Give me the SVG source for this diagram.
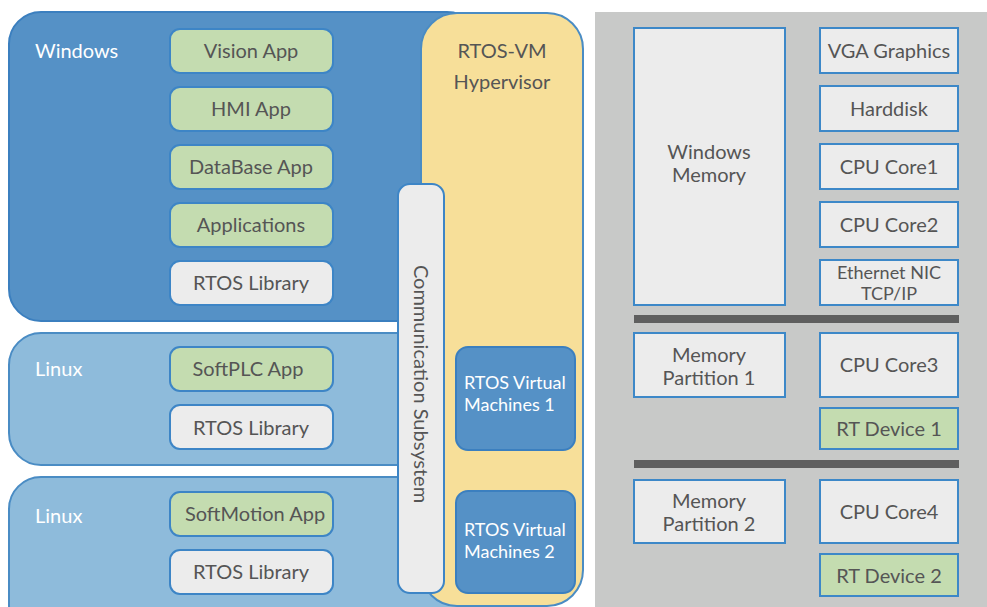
<svg xmlns="http://www.w3.org/2000/svg" width="987" height="607" viewBox="0 0 987 607">
<style>
text{font-family:Lato,"Open Sans","Liberation Sans",sans-serif;font-size:20px;fill:#555555}
.w{fill:#ffffff}
.c{text-anchor:middle}
.s{font-size:18px}
.win{fill:#5591c6;stroke:#3b7fbf;stroke-width:2}
.lin{fill:#8ebbdb;stroke:#4a8cc4;stroke-width:2}
.hyp{fill:#f7df99;stroke:#4a8cc4;stroke-width:2}
.app{fill:#c4dcb0;stroke:#3d85c6;stroke-width:2}
.lib{fill:#ececec;stroke:#3d85c6;stroke-width:2}
.vm{fill:#5591c6;stroke:#3b7fbf;stroke-width:2}
.hw{fill:#ececec;stroke:#3d88c8;stroke-width:2}
.hwg{fill:#c4dcb0;stroke:#3d88c8;stroke-width:2}
.bar{fill:#5f5f5f}
</style>
<rect width="987" height="607" fill="#ffffff"/>
<g id="windows">
<rect class="win" x="9" y="12" width="470" height="309" rx="32"/>
<text class="w" x="35" y="58">Windows</text>
</g>
<g id="linux1">
<rect class="lin" x="9" y="333" width="470" height="132" rx="32"/>
<text class="w" x="35" y="376">Linux</text>
</g>
<g id="linux2">
<rect class="lin" x="9" y="477" width="470" height="160" rx="32"/>
<text class="w" x="35" y="523">Linux</text>
</g>
<g id="hypervisor">
<rect class="hyp" x="421" y="13" width="162" height="593" rx="36"/>
<text class="c" x="502" y="58">RTOS-VM</text>
<text class="c" x="502" y="89">Hypervisor</text>
</g>
<g id="vision-app"><rect class="app" x="170" y="29" width="163" height="44" rx="10"/><text class="c" x="251" y="58">Vision App</text></g>
<g id="hmi-app"><rect class="app" x="170" y="87" width="163" height="44" rx="10"/><text class="c" x="251" y="116">HMI App</text></g>
<g id="database-app"><rect class="app" x="170" y="145" width="163" height="44" rx="10"/><text class="c" x="251" y="174">DataBase App</text></g>
<g id="applications"><rect class="app" x="170" y="203" width="163" height="44" rx="10"/><text class="c" x="251" y="232">Applications</text></g>
<g id="rtos-lib-win"><rect class="lib" x="170" y="261" width="163" height="44" rx="10"/><text class="c" x="251" y="290">RTOS Library</text></g>
<g id="softplc-app"><rect class="app" x="170" y="347" width="163" height="44" rx="10"/><text class="c" x="248" y="376">SoftPLC App</text></g>
<g id="rtos-lib-linux1"><rect class="lib" x="170" y="405" width="163" height="44" rx="10"/><text class="c" x="251" y="435">RTOS Library</text></g>
<g id="softmotion-app"><rect class="app" x="170" y="492" width="163" height="44" rx="10"/><text class="c" x="255" y="521">SoftMotion App</text></g>
<g id="rtos-lib-linux2"><rect class="lib" x="170" y="550" width="163" height="44" rx="10"/><text class="c" x="251" y="579">RTOS Library</text></g>
<g id="comm-subsystem">
<rect class="lib" x="398" y="184" width="46" height="409" rx="12"/>
<text class="c" transform="translate(414 384) rotate(90)">Communication Subsystem</text>
</g>
<g id="rtos-vm1">
<rect class="vm" x="456" y="347" width="119" height="103" rx="12"/>
<text class="w s" x="464" y="389">RTOS Virtual</text>
<text class="w s" x="464" y="411">Machines 1</text>
</g>
<g id="rtos-vm2">
<rect class="vm" x="456" y="491" width="119" height="102" rx="12"/>
<text class="w s" x="464" y="536">RTOS Virtual</text>
<text class="w s" x="464" y="558">Machines 2</text>
</g>
<g id="hardware">
<rect x="595" y="12" width="392" height="595" fill="#c8c9c8"/>
</g>
<g id="windows-memory"><rect class="hw" x="634" y="28" width="151" height="277"/><text class="c" x="709" y="159">Windows</text><text class="c" x="709" y="182">Memory</text></g>
<g id="vga"><rect class="hw" x="820" y="28" width="138" height="45"/><text class="c" x="889" y="58">VGA Graphics</text></g>
<g id="harddisk"><rect class="hw" x="820" y="86" width="138" height="45"/><text class="c" x="889" y="116">Harddisk</text></g>
<g id="cpu1"><rect class="hw" x="820" y="144" width="138" height="45"/><text class="c" x="889" y="174">CPU Core1</text></g>
<g id="cpu2"><rect class="hw" x="820" y="202" width="138" height="45"/><text class="c" x="889" y="232">CPU Core2</text></g>
<g id="ethernet"><rect class="hw" x="820" y="260" width="138" height="45"/><text class="c s" x="889" y="279">Ethernet NIC</text><text class="c s" x="889" y="300">TCP/IP</text></g>
<g id="bars">
<rect class="bar" x="634" y="315" width="325" height="8"/>
<rect class="bar" x="634" y="460" width="325" height="8"/>
</g>
<g id="mem-part1"><rect class="hw" x="634" y="333" width="151" height="64"/><text class="c" x="709" y="362">Memory</text><text class="c" x="709" y="385">Partition 1</text></g>
<g id="cpu3"><rect class="hw" x="820" y="333" width="138" height="64"/><text class="c" x="889" y="372">CPU Core3</text></g>
<g id="rt-dev1"><rect class="hwg" x="820" y="408" width="138" height="41"/><text class="c" x="889" y="436">RT Device 1</text></g>
<g id="mem-part2"><rect class="hw" x="634" y="480" width="151" height="63"/><text class="c" x="709" y="508">Memory</text><text class="c" x="709" y="531">Partition 2</text></g>
<g id="cpu4"><rect class="hw" x="820" y="480" width="138" height="63"/><text class="c" x="889" y="519">CPU Core4</text></g>
<g id="rt-dev2"><rect class="hwg" x="820" y="554" width="138" height="42"/><text class="c" x="889" y="583">RT Device 2</text></g>
</svg>
